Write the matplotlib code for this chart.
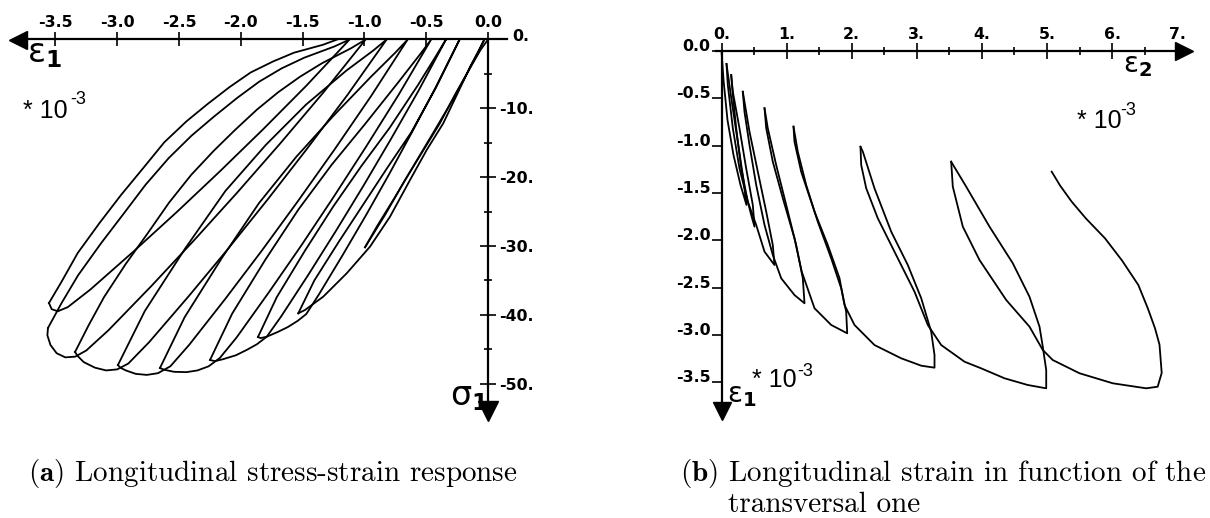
import matplotlib
matplotlib.use("Agg")
import matplotlib.pyplot as plt
from matplotlib.ticker import FixedLocator

plt.rcParams['mathtext.fontset'] = 'dejavusans'
plt.rcParams['font.family'] = ['Liberation Sans', 'DejaVu Sans']

W, H = 1210, 518
LW = 1.3
AXW = 1.6
TICKFONT = dict(family='DejaVu Sans', weight='bold', size=11.3)

# ---------------- (a) longitudinal stress-strain : eps1 [1e-3], sigma1 [MPa]
x1_ticks = [-3.5, -3.0, -2.5, -2.0, -1.5, -1.0, -0.5, 0.0]
x1_labels = ['-3.5', '-3.0', '-2.5', '-2.0', '-1.5', '-1.0', '-0.5', '0.0']
y1_ticks = [-10, -20, -30, -40, -50]
y1_labels = ['-10.', '-20.', '-30.', '-40.', '-50.']
y1_minor = [-5, -15, -25, -35, -45]

# first loading
load0_eps = [0.0, -0.06, -0.15, -0.26, -0.39, -0.53, -0.67, -0.83, -0.995]
load0_sig = [0.0, -1.5, -4.3, -7.8, -12.2, -16.3, -20.4, -25.4, -30.2]
# each cycle : unloading from a peak, then reloading up to the next peak
cI_eps = [-0.995, -0.899, -0.754, -0.609, -0.464, -0.320, -0.175, -0.078, -0.03,
          -0.06, -0.14, -0.235, -0.362, -0.496, -0.631, -0.793, -0.955, -1.143, -1.333, -1.481, -1.535]
cI_sig = [-30.2, -27.18, -22.95, -18.57, -14.19, -9.82, -5.13, -1.81, 0.0,
          -1.1, -3.8, -7.4, -12.18, -16.06, -20.42, -25.76, -30.12, -33.98, -37.38, -39.32, -39.8]
cH_eps = [-1.535, -1.405, -1.209, -1.013, -0.817, -0.622, -0.426, -0.295, -0.23,
          -0.420, -0.610, -0.799, -0.989, -1.179, -1.369, -1.47, -1.54, -1.62, -1.70, -1.79, -1.84, -1.861]
cH_sig = [-39.8, -35.02, -29.45, -24.08, -18.71, -13.53, -7.16, -2.39, 0.0,
          -6.85, -13.3, -19.55, -25.6, -31.43, -37.08, -39.9, -40.9, -41.8, -42.5, -43.2, -43.4, -43.24]
cG_eps = [-1.861, -1.709, -1.481, -1.253, -1.024, -0.796, -0.568, -0.416, -0.34,
          -0.562, -0.784, -1.006, -1.229, -1.451, -1.673, -1.79, -1.87, -1.95, -2.04, -2.15, -2.21, -2.249]
cG_sig = [-43.24, -37.45, -30.70, -24.30, -18.38, -12.84, -6.66, -2.25, 0.0,
          -7.44, -14.43, -21.21, -27.78, -34.12, -40.24, -43.2, -44.3, -45.1, -45.9, -46.5, -46.75, -46.58]
cF_eps = [-2.249, -2.070, -1.802, -1.533, -1.265, -0.997, -0.728, -0.549, -0.46,
          -0.722, -0.985, -1.247, -1.509, -1.772, -2.034, -2.17, -2.26, -2.35, -2.44, -2.54, -2.62, -2.654]
cF_sig = [-46.58, -39.85, -32.02, -24.69, -18.21, -12.34, -6.27, -2.14, 0.0,
          -8.0, -15.54, -22.83, -29.90, -36.72, -43.31, -46.3, -47.5, -48.1, -48.35, -48.3, -48.0, -47.75]
cE_eps = [-2.654, -2.454, -2.153, -1.852, -1.552, -1.251, -0.951, -0.750, -0.65,
          -0.945, -1.239, -1.534, -1.828, -2.123, -2.418, -2.57, -2.67, -2.76, -2.85, -2.93, -2.975, -2.994]
cE_sig = [-47.75, -40.35, -31.75, -23.76, -17.07, -11.10, -5.49, -1.91, 0.0,
          -8.20, -15.92, -23.40, -30.64, -37.64, -44.39, -47.5, -48.5, -48.75, -48.6, -48.1, -47.7, -47.31]
cD_eps = [-2.994, -2.777, -2.451, -2.124, -1.798, -1.472, -1.146, -0.929, -0.82,
          -1.140, -1.460, -1.780, -2.100, -2.421, -2.741, -2.91, -3.00, -3.09, -3.18, -3.27, -3.32, -3.341]
cD_sig = [-47.31, -39.48, -30.40, -22.00, -15.33, -9.46, -4.52, -1.61, 0.0,
          -8.13, -15.78, -23.19, -30.36, -37.30, -43.98, -47.1, -47.95, -48.1, -47.7, -46.9, -46.0, -45.42]
cC_eps = [-3.341, -3.23, -3.106, -2.93, -2.753, -2.58, -2.401, -2.22, -2.048, -1.87, -1.695, -1.52,
          -1.343, -1.108, -0.99,
          -1.337, -1.683, -2.030, -2.377, -2.723, -3.070, -3.25, -3.34, -3.42, -3.49, -3.54, -3.565, -3.56]
cC_sig = [-45.42, -41.5, -37.43, -32.6, -28.16, -23.7, -19.67, -16.2, -13.17, -10.2, -7.63, -5.4,
          -3.45, -1.27, 0.0,
          -7.81, -15.15, -22.27, -29.16, -35.82, -42.25, -45.2, -46.1, -46.2, -45.6, -44.4, -43.0, -41.93]
cB_eps = [-3.56, -3.45, -3.316, -3.13, -2.95, -2.77, -2.584, -2.40, -2.218, -2.03, -1.852, -1.67,
          -1.486, -1.242, -1.12,
          -1.470, -1.819, -2.169, -2.518, -2.868, -3.217, -3.40, -3.48, -3.53, -3.552]
cB_sig = [-41.93, -38.3, -34.26, -29.6, -25.37, -21.1, -17.25, -14.0, -11.22, -8.5, -6.14, -4.2,
          -2.64, -1.01, 0.0,
          -6.72, -13.04, -19.16, -25.08, -30.81, -36.34, -38.9, -39.5, -39.2, -38.3]
cA_eps = [-3.552, -3.45, -3.319, -3.14, -2.969, -2.79, -2.619, -2.44, -2.269, -2.09, -1.920, -1.74,
          -1.570, -1.336, -1.22]
cA_sig = [-38.3, -35.2, -31.02, -26.6, -22.60, -18.7, -14.94, -11.9, -9.38, -6.9, -4.79, -3.2,
          -1.92, -0.77, 0.0]

left_cycles = [(load0_eps, load0_sig), (cI_eps, cI_sig), (cH_eps, cH_sig), (cG_eps, cG_sig),
               (cF_eps, cF_sig), (cE_eps, cE_sig), (cD_eps, cD_sig), (cC_eps, cC_sig),
               (cB_eps, cB_sig), (cA_eps, cA_sig)]

# ---------------- (b) eps1 vs eps2 [1e-3]
x2_ticks = [0, 1, 2, 3, 4, 5, 6, 7]
x2_labels = ['0.', '1.', '2.', '3.', '4.', '5.', '6.', '7.']
x2_minor = [0.5, 1.5, 2.5, 3.5, 4.5, 5.5, 6.5]
y2_ticks = [0.0, -0.5, -1.0, -1.5, -2.0, -2.5, -3.0, -3.5]
y2_labels = ['0.0', '-0.5', '-1.0', '-1.5', '-2.0', '-2.5', '-3.0', '-3.5']

b0_e2 = [0.0, 0.031, 0.092, 0.184, 0.292, 0.384, 0.338, 0.246, 0.154, 0.077]
b0_e1 = [0.0, -0.306, -0.729, -1.098, -1.415, -1.626, -1.362, -0.940, -0.517, -0.137]
b1_e2 = [0.077, 0.097, 0.174, 0.276, 0.379, 0.456, 0.507, 0.481, 0.379, 0.276, 0.174, 0.149]
b1_e1 = [-0.137, -0.359, -0.816, -1.239, -1.521, -1.732, -1.855, -1.626, -1.239, -0.816, -0.430, -0.253]
b2_e2 = [0.149, 0.174, 0.226, 0.303, 0.404, 0.533, 0.661, 0.814, 0.788, 0.687, 0.558, 0.430, 0.327]
b2_e1 = [-0.253, -0.465, -0.816, -1.239, -1.591, -1.837, -2.119, -2.260, -2.049, -1.697, -1.275, -0.852, -0.430]
b3_e2 = [0.327, 0.353, 0.430, 0.533, 0.661, 0.788, 0.917, 1.121, 1.275, 1.249, 1.147, 0.994, 0.840, 0.711, 0.661]
b3_e1 = [-0.430, -0.641, -0.993, -1.415, -1.837, -2.154, -2.400, -2.577, -2.664, -2.400, -2.049, -1.626, -1.204, -0.816, -0.605]
b4_e2 = [0.661, 0.687, 0.788, 0.942, 1.121, 1.233, 1.429, 1.685, 1.931, 1.915, 1.839, 1.685, 1.479, 1.301, 1.172, 1.106]
b4_e1 = [-0.605, -0.816, -1.169, -1.555, -1.978, -2.331, -2.717, -2.893, -2.981, -2.753, -2.506, -2.189, -1.803, -1.415, -1.063, -0.799]
b5_e2 = [1.106, 1.121, 1.224, 1.429, 1.633, 1.813, 1.889, 2.043, 2.350, 2.760, 3.068, 3.272,
         3.272, 3.221, 3.068, 2.862, 2.607, 2.350, 2.171, 2.135]
b5_e1 = [-0.799, -0.958, -1.275, -1.697, -2.049, -2.400, -2.682, -2.893, -3.105, -3.245, -3.323, -3.344,
         -3.210, -2.964, -2.611, -2.260, -1.908, -1.450, -1.063, -1.011]
b6_e2 = [2.135, 2.146, 2.223, 2.401, 2.657, 2.965, 3.169, 3.375, 3.733, 3.989, 4.347, 4.705, 4.988,
         4.988, 4.935, 4.885, 4.731, 4.475, 4.117, 3.759, 3.528]
b6_e1 = [-1.011, -1.204, -1.450, -1.767, -2.119, -2.542, -2.893, -3.105, -3.281, -3.351, -3.456, -3.527, -3.562,
         -3.369, -3.122, -2.911, -2.595, -2.242, -1.855, -1.433, -1.169]
b7_e2 = [3.528, 3.553, 3.707, 3.963, 4.373, 4.731, 4.935, 5.088, 5.499, 6.011, 6.524, 6.70, 6.762,
         6.728, 6.659, 6.55, 6.403, 6.15, 5.891, 5.60, 5.379, 5.20, 5.072]
b7_e1 = [-1.169, -1.433, -1.855, -2.207, -2.629, -2.911, -3.157, -3.263, -3.403, -3.509, -3.562, -3.545, -3.40,
         -3.10, -2.928, -2.72, -2.471, -2.21, -1.978, -1.77, -1.591, -1.42, -1.274]

right_cycles = [(b0_e2, b0_e1), (b1_e2, b1_e1), (b2_e2, b2_e1), (b3_e2, b3_e1),
                (b4_e2, b4_e1), (b5_e2, b5_e1), (b6_e2, b6_e1), (b7_e2, b7_e1)]

fig = plt.figure(figsize=(W / 100, H / 100), dpi=100)


def fx(px):
    return px / W


def fy(py):
    return 1 - py / H


def style_labels(labels):
    for t in labels:
        t.set_fontfamily(TICKFONT['family'])
        t.set_fontweight(TICKFONT['weight'])
        t.set_fontsize(TICKFONT['size'])


# ---------- left axes: pixel box x 0..530, y 0..430 ; origin at (488, 39.5)
ax1 = fig.add_axes([fx(0), fy(430), fx(530), 430 / H])
ax1.set_xlim((0 - 488) / 123.6, (530 - 488) / 123.6)
ax1.set_ylim(-(430 - 39.5) / 6.88, 39.5 / 6.88)
ax1.patch.set_alpha(0)
for e, s in left_cycles:
    ax1.plot(e, s, color='black', lw=LW, solid_joinstyle='round')

ax1.spines['bottom'].set_visible(False)
ax1.spines['left'].set_visible(False)
ax1.spines['top'].set_position(('data', 0))
ax1.spines['right'].set_position(('data', 0))
ax1.spines['top'].set_bounds(-3.80, 0.154)
ax1.spines['right'].set_bounds(-54.0, 0)
for sp in ('top', 'right'):
    ax1.spines[sp].set_linewidth(AXW)
ax1.xaxis.set_ticks_position('top')
ax1.yaxis.set_ticks_position('right')
ax1.set_xticks(x1_ticks)
ax1.set_xticklabels(x1_labels)
ax1.set_yticks(y1_ticks)
ax1.set_yticklabels(y1_labels)
ax1.yaxis.set_minor_locator(FixedLocator(y1_minor))
ax1.tick_params(axis='x', which='major', direction='inout', length=10, width=1.2, pad=1.5)
ax1.tick_params(axis='y', which='major', direction='inout', length=11.3, width=1.2, pad=2)
ax1.tick_params(axis='y', which='minor', direction='inout', length=6, width=1.2)
style_labels(ax1.get_xticklabels())
style_labels(ax1.get_yticklabels())
ax1.text(0.194, 0.4, '0.', ha='left', va='center', fontfamily=TICKFONT['family'],
         fontweight='bold', fontsize=TICKFONT['size'])
ax1.plot([-3.80], [0], marker='<', ms=13, color='black', clip_on=False)
ax1.plot([0], [-54.0], marker='v', ms=14, color='black', clip_on=False)

# ---------- right axes: pixel box x 640..1210, y 0..430 ; origin at (721.5, 51)
ax2 = fig.add_axes([fx(640), fy(430), (1210 - 640) / W, 430 / H])
ax2.set_xlim((640 - 721.5) / 65.1, (1210 - 721.5) / 65.1)
ax2.set_ylim(-(430 - 51) / 94.7, 51 / 94.7)
ax2.patch.set_alpha(0)
for e2, e1 in right_cycles:
    ax2.plot(e2, e1, color='black', lw=LW, solid_joinstyle='round')

ax2.spines['bottom'].set_visible(False)
ax2.spines['right'].set_visible(False)
ax2.spines['top'].set_position(('data', 0))
ax2.spines['left'].set_position(('data', 0))
ax2.spines['top'].set_bounds(-0.085, 7.11)
ax2.spines['left'].set_bounds(-3.80, 0.0)
for sp in ('top', 'left'):
    ax2.spines[sp].set_linewidth(AXW)
ax2.xaxis.set_ticks_position('top')
ax2.yaxis.set_ticks_position('left')
ax2.set_xticks(x2_ticks)
ax2.set_xticklabels(x2_labels)
ax2.xaxis.set_minor_locator(FixedLocator(x2_minor))
ax2.set_yticks(y2_ticks)
ax2.set_yticklabels(y2_labels)
ax2.tick_params(axis='x', which='major', direction='inout', length=11.5, width=1.2, pad=1)
ax2.tick_params(axis='x', which='minor', direction='inout', length=6, width=1.2)
ax2.tick_params(axis='y', which='major', direction='out', length=7, width=1.2, pad=1)
style_labels(ax2.get_xticklabels())
style_labels(ax2.get_yticklabels())
for t in ax2.get_yticklabels():
    t.set_verticalalignment('baseline')
ax2.plot([7.11], [0], marker='>', ms=13, color='black', clip_on=False)
ax2.plot([0], [-3.80], marker='v', ms=13, color='black', clip_on=False)

# ---------- axis symbols
fig.text(fx(27), fy(62), r'$\mathrm{\varepsilon}_{\mathbf{1}}$', fontsize=24, ha='left', va='baseline')
fig.text(fx(23), fy(118), '* 10', fontsize=18, ha='left', va='baseline', fontfamily='Liberation Sans')
fig.text(fx(70), fy(104), '-3', fontsize=13, ha='left', va='baseline', fontfamily='Liberation Sans')
fig.text(fx(450), fy(405), r'$\mathrm{\sigma}_{\mathbf{1}}$', fontsize=24, ha='left', va='baseline')

fig.text(fx(1123), fy(72), r'$\mathrm{\varepsilon}_{\mathbf{2}}$', fontsize=20, ha='left', va='baseline')
fig.text(fx(1077), fy(128), '* 10', fontsize=18, ha='left', va='baseline', fontfamily='Liberation Sans')
fig.text(fx(1120), fy(115), '-3', fontsize=13, ha='left', va='baseline', fontfamily='Liberation Sans')

fig.text(fx(727), fy(402), r'$\mathrm{\varepsilon}_{\mathbf{1}}$', fontsize=20, ha='left', va='baseline')
fig.text(fx(752), fy(387), '* 10', fontsize=18, ha='left', va='baseline', fontfamily='Liberation Sans')
fig.text(fx(797), fy(376), '-3', fontsize=13, ha='left', va='baseline', fontfamily='Liberation Sans')

# ---------- captions
cap = dict(fontsize=21, fontfamily='cmr10', math_fontfamily='cm', ha='left', va='baseline')
fig.text(fx(28), fy(481), r'$\mathbf{(a)}$ Longitudinal stress-strain response', **cap)
fig.text(fx(680), fy(481), r'$\mathbf{(b)}$ Longitudinal strain in function of the', **cap)
fig.text(fx(728), fy(512), 'transversal one', **cap)

fig.savefig('out.png', dpi=100)
